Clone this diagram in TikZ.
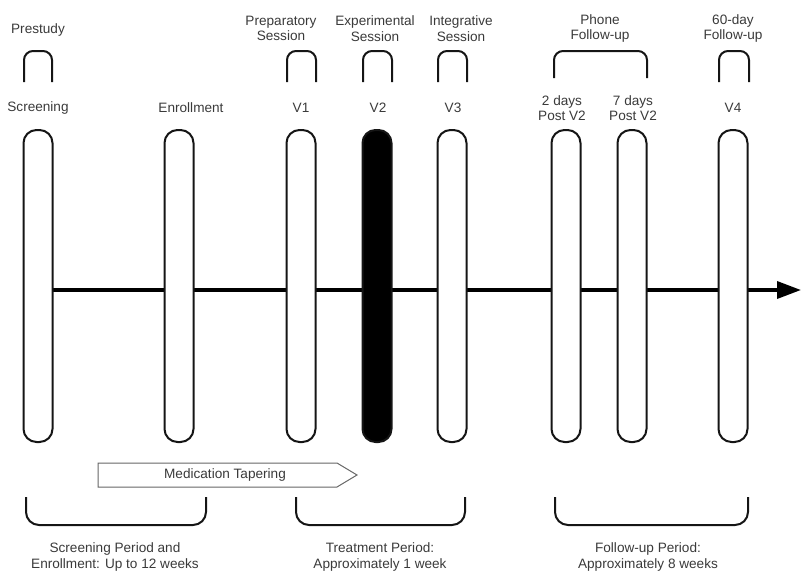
\documentclass[tikz,border=0pt]{standalone}
\usepackage{fontspec}
\setmainfont{Liberation Sans}
\usetikzlibrary{arrows.meta}
\definecolor{txt}{HTML}{3A3A3A}
\definecolor{ln}{HTML}{151515}
\definecolor{medline}{HTML}{666666}
\begin{document}
\begin{tikzpicture}[x=1pt,y=-1pt,
  lbl/.style={text=txt,font=\fontsize{13.6}{15.5}\selectfont,align=center,inner sep=0pt},
  pill/.style={draw=ln,line width=2pt,fill=white,rounded corners=13pt,minimum width=29pt,minimum height=312pt,inner sep=0pt},
  vpill/.style={pill,fill=black},
  topcap/.style={draw=ln,line width=2pt,rounded corners=9pt},
  brk/.style={draw=ln,line width=2pt,rounded corners=13pt},
  timeline/.style={draw=black,line width=3.5pt,-{Triangle[length=24pt,width=17pt]}},
]
\useasboundingbox (0,0) rectangle (802,571);

% timeline
\coordinate (tl) at (38,290);
\coordinate (tip) at (801,290);
\draw[timeline] (tl) -- (tip);

% pills
\node[pill]  (s)  at (38,286)  {};
\node[pill]  (e)  at (179,286) {};
\node[pill]  (v1) at (301,286) {};
\node[vpill] (v2) at (377,286) {};
\node[pill]  (v3) at (452,286) {};
\node[pill]  (p2) at (566,286) {};
\node[pill]  (p7) at (632,286) {};
\node[pill]  (v4) at (733,286) {};

% labels above pills
\node[lbl] (ls)  at (38,108)  {Screening};
\node[lbl] (le)  at (191,108) {Enrollment};
\node[lbl] (lv1) at (301,108) {V1};
\node[lbl] (lv2) at (378,108) {V2};
\node[lbl] (lv3) at (453,108) {V3};
\node[lbl] (lp2) at (562,108) {2 days\\Post V2};
\node[lbl] (lp7) at (633,108) {7 days\\Post V2};
\node[lbl] (lv4) at (733,108) {V4};

% top caps
\draw[topcap] (24,82) -- (24,51) -- (52,51) -- (52,82);
\draw[topcap] (287,82) -- (287,51) -- (316,51) -- (316,82);
\draw[topcap] (363,82) -- (363,51) -- (392,51) -- (392,82);
\draw[topcap] (438,82) -- (438,51) -- (467,51) -- (467,82);
\draw[topcap] (554,78) -- (554,51) -- (647,51) -- (647,78);
\draw[topcap] (719,82) -- (719,51) -- (749,51) -- (749,82);

% top labels
\node[lbl] (tpre) at (38,30)  {Prestudy};
\node[lbl] (tprep) at (281,28.5) {Preparatory\\Session};
\node[lbl] (texp) at (375,28.5) {Experimental\\Session};
\node[lbl] (tint) at (461,28.5) {Integrative\\Session};
\node[lbl] (tph) at (600,28.5) {Phone\\Follow-up};
\node[lbl] (t60) at (733,28.5) {60-day\\Follow-up};

% medication tapering
\draw[draw=medline,line width=1pt,fill=white] (98,463) -- (337,463) -- (357,475) -- (337,487) -- (98,487) -- cycle;
\node[lbl] (med) at (225,475) {Medication Tapering};

% bottom brackets
\draw[brk] (26,497) -- (26,525) -- (206,525) -- (206,497);
\draw[brk] (296,497) -- (296,525) -- (465,525) -- (465,497);
\draw[brk] (555,497) -- (555,525) -- (748,525) -- (748,497);

% bottom labels
\node[lbl] (bs) at (115,557) {Screening Period and\\Enrollment: Up to 12 weeks};
\node[lbl] (bt) at (380,557) {Treatment Period:\\Approximately 1 week};
\node[lbl] (bf) at (648,557) {Follow-up Period:\\Approximately 8 weeks};
\end{tikzpicture}
\end{document}
